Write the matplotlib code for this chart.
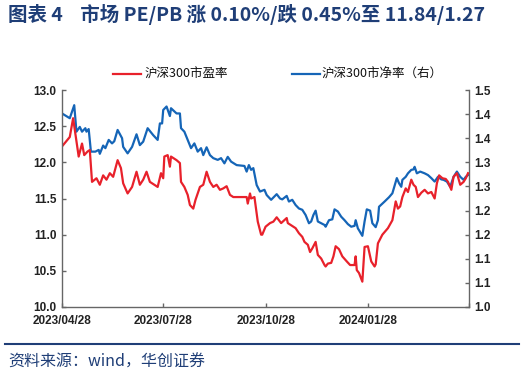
import numpy as np
import matplotlib
matplotlib.use("Agg")
import matplotlib.pyplot as plt
import matplotlib.ticker as mticker

plt.rcParams['font.family'] = ['Noto Sans CJK SC', 'DejaVu Sans']

start = np.datetime64('2023-04-28')

# days since 2023/04/28 and values
pe_days = [0, 7, 10, 13, 15, 18, 20, 23, 25, 27, 31, 34, 37, 40, 43, 46, 50, 53, 55, 59,
           63, 67, 70, 73, 76, 79, 83, 86, 89, 91, 92, 95, 97, 98, 103, 106, 107, 110, 113, 115,
           118, 120, 124, 127, 130, 133, 136, 139, 142, 145, 148, 151, 154, 166, 167, 169, 170, 173, 175, 176,
           179, 180, 183, 187, 190, 193, 195, 197, 202, 203, 207, 210, 213, 216, 218, 221, 223, 225, 228, 230,
           233, 236, 237, 239, 242, 244, 246, 249, 252, 256, 259, 263, 264, 265, 267, 270, 272, 275, 278, 281,
           282, 284, 288, 293, 297, 300, 302, 304, 306, 309, 311, 314, 316, 318, 320, 323, 326, 329, 332, 335,
           337, 339, 342, 345, 347, 350, 352, 355, 358, 361, 363, 365]
pe = [12.22, 12.35, 12.61, 12.29, 12.08, 12.26, 12.10, 12.15, 12.17, 11.73, 11.78, 11.69, 11.82, 11.76, 11.85, 11.80, 12.03, 11.92, 11.71, 11.57,
      11.66, 11.87, 11.69, 11.76, 11.87, 11.73, 11.69, 11.66, 11.85, 11.78, 12.08, 12.10, 11.94, 12.08, 12.03, 11.99, 11.73, 11.66, 11.55, 11.41,
      11.36, 11.48, 11.66, 11.69, 11.87, 11.73, 11.66, 11.69, 11.62, 11.64, 11.67, 11.55, 11.52, 11.52, 11.43, 11.57, 11.50, 11.52, 11.30, 11.18,
      11.00, 11.00, 11.11, 11.16, 11.18, 11.24, 11.20, 11.16, 11.23, 11.16, 11.12, 11.09, 11.02, 10.97, 10.90, 10.86, 10.76, 10.81, 10.90, 10.72,
      10.67, 10.58, 10.56, 10.60, 10.61, 10.70, 10.84, 10.80, 10.70, 10.63, 10.58, 10.58, 10.70, 10.51, 10.47, 10.35, 10.83, 10.84, 10.63, 10.56,
      10.59, 10.88, 11.00, 11.09, 11.20, 11.46, 11.36, 11.39, 11.52, 11.64, 11.59, 11.76, 11.69, 11.66, 11.52, 11.58, 11.62, 11.57, 11.59, 11.50,
      11.71, 11.82, 11.78, 11.77, 11.73, 11.62, 11.80, 11.85, 11.69, 11.73, 11.78, 11.85]

pb_days = [0, 7, 11, 13, 16, 18, 21, 22, 24, 26, 30, 33, 34, 37, 39, 42, 45, 47, 50, 54,
           55, 59, 63, 67, 70, 73, 77, 82, 86, 88, 90, 91, 94, 97, 98, 103, 106, 107, 110, 113,
           116, 119, 122, 125, 127, 130, 133, 136, 140, 143, 146, 149, 152, 157, 164, 166, 168, 170, 172, 175,
           178, 182, 184, 188, 193, 196, 198, 202, 204, 207, 210, 213, 216, 219, 222, 224, 226, 228, 230, 233,
           236, 237, 240, 243, 245, 248, 251, 254, 257, 260, 263, 264, 266, 267, 270, 272, 274, 277, 279, 282,
           284, 285, 290, 294, 297, 301, 303, 305, 306, 309, 311, 314, 316, 317, 319, 322, 326, 329, 332, 335,
           338, 341, 343, 346, 349, 352, 355, 358, 361, 363, 365]
pb = [1.446, 1.435, 1.465, 1.404, 1.415, 1.404, 1.412, 1.404, 1.410, 1.358, 1.358, 1.362, 1.353, 1.372, 1.366, 1.385, 1.377, 1.382, 1.408, 1.389,
      1.369, 1.354, 1.369, 1.398, 1.373, 1.381, 1.412, 1.396, 1.385, 1.423, 1.423, 1.454, 1.462, 1.440, 1.458, 1.446, 1.446, 1.412, 1.404, 1.385,
      1.366, 1.377, 1.358, 1.366, 1.350, 1.368, 1.350, 1.343, 1.339, 1.343, 1.331, 1.346, 1.335, 1.327, 1.325, 1.312, 1.327, 1.316, 1.320, 1.281,
      1.266, 1.270, 1.258, 1.247, 1.260, 1.250, 1.248, 1.256, 1.243, 1.247, 1.235, 1.227, 1.224, 1.212, 1.193, 1.197, 1.212, 1.222, 1.197, 1.193,
      1.189, 1.185, 1.200, 1.202, 1.225, 1.220, 1.208, 1.200, 1.191, 1.185, 1.187, 1.200, 1.181, 1.177, 1.164, 1.197, 1.225, 1.222, 1.193, 1.184,
      1.200, 1.231, 1.243, 1.253, 1.262, 1.297, 1.285, 1.277, 1.293, 1.300, 1.308, 1.316, 1.317, 1.323, 1.308, 1.312, 1.308, 1.304, 1.297, 1.289,
      1.300, 1.294, 1.293, 1.289, 1.277, 1.300, 1.312, 1.300, 1.293, 1.300, 1.304]

x_ticks = ['2023-04-28', '2023-07-28', '2023-10-28', '2024-01-28', '2024-04-28']
x_labels = ['2023/04/28', '2023/07/28', '2023/10/28', '2024/01/28', '']

title = '图表 4    市场 PE/PB 涨 0.10%/跌 0.45%至 11.84/1.27'
source = '资料来源：wind，华创证券'
pe_name = '沪深300市盈率'
pb_name = '沪深300市净率（右）'

red = '#E8212B'
blue = '#1565B7'
navy = '#1F3E77'
axis_gray = '#666666'

pe_dates = start + np.array(pe_days).astype('timedelta64[D]')
pb_dates = start + np.array(pb_days).astype('timedelta64[D]')

fig = plt.figure(figsize=(5.24, 3.79), dpi=100)
ax = fig.add_axes([0.1183, 0.19, 0.777, 0.5725])
ax2 = ax.twinx()

l1, = ax.plot(pe_dates, pe, color=red, lw=1.6)
l2, = ax2.plot(pb_dates, pb, color=blue, lw=1.6)
ax.set_zorder(ax2.get_zorder() + 1)
ax.patch.set_visible(False)

ax.set_ylim(10.0, 13.0)
ax.set_yticks(np.arange(10.0, 13.01, 0.5))
ax.yaxis.set_major_formatter(mticker.FormatStrFormatter('%.1f'))
ax2.set_ylim(1.0, 1.5)
ax2.set_yticks(np.linspace(1.0, 1.5, 10))
ax2.yaxis.set_major_formatter(mticker.FormatStrFormatter('%.1f'))

xt = np.array(x_ticks, dtype='datetime64[D]')
ax.set_xlim(xt[0], xt[-1])
ax.set_xticks(xt)
ax.set_xticklabels(x_labels)

for a in (ax, ax2):
    a.spines['top'].set_visible(False)
    for s in ('left', 'right', 'bottom'):
        a.spines[s].set_color(axis_gray)
        a.spines[s].set_linewidth(1.0)
    a.tick_params(direction='in', length=3, color=axis_gray, width=1.0)
ax.spines['right'].set_visible(False)
ax2.spines['left'].set_visible(False)
ax2.spines['bottom'].set_visible(False)

for lab in ax.get_yticklabels() + ax2.get_yticklabels() + ax.get_xticklabels():
    lab.set_family(['Liberation Sans', 'DejaVu Sans'])
    lab.set_fontweight('bold')
    lab.set_fontsize(8.5)
    lab.set_color('#222222')
ax.tick_params(axis='x', pad=6)
ax.tick_params(axis='y', pad=4)
ax2.tick_params(axis='y', pad=4)

# legend, drawn by hand to sit where the reference has it
ly = 1 - 74 / 379
fig.add_artist(plt.Line2D([113 / 524, 141 / 524], [ly, ly], color=red, lw=1.6))
fig.text(145 / 524, ly, pe_name, fontsize=9, fontweight='medium', va='center', ha='left', color='#111111')
fig.add_artist(plt.Line2D([292 / 524, 320 / 524], [ly, ly], color=blue, lw=1.6))
fig.text(322 / 524, ly, pb_name, fontsize=9, fontweight='medium', va='center', ha='left', color='#111111')

fig.text(0.015, 0.963, title, fontsize=14, fontweight='bold', color=navy, va='center', ha='left')
fig.add_artist(plt.Line2D([0.01, 0.99], [0.092, 0.092], color=navy, lw=1.5))
fig.text(0.015, 0.045, source, fontsize=11.5, style='italic', color=navy, va='center', ha='left')

fig.savefig('out.png', dpi=100)
